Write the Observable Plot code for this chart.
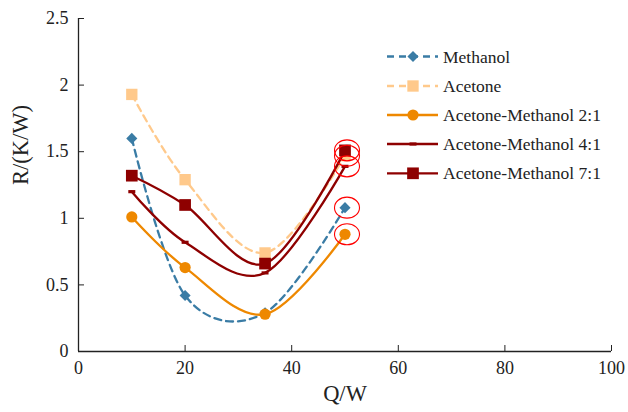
<!DOCTYPE html>
<html>
<head>
<meta charset="utf-8">
<script src="https://cdn.jsdelivr.net/npm/d3@7"></script>
<script src="https://cdn.jsdelivr.net/npm/@observablehq/plot@0.6"></script>
<style>
  body { margin: 0; background: white; }
  #wrap { position: relative; width: 628px; height: 412px; }
  #wrap svg { position: absolute; left: 0; top: 0; }
</style>
</head>
<body>
<div id="wrap"></div>
<script>
// ---- data ----
const seriesNames = ["Methanol", "Acetone", "Acetone-Methanol 2:1", "Acetone-Methanol 4:1", "Acetone-Methanol 7:1"];
const q = [10, 20, 35, 50];
const methanol = [1.60, 0.42, 0.29, 1.08];
const acetone  = [1.93, 1.29, 0.74, 1.47];
const am21     = [1.01, 0.63, 0.28, 0.88];
const am41     = [1.20, 0.82, 0.59, 1.39];
const am71     = [1.32, 1.10, 0.66, 1.51];
const xTicks = [0, 20, 40, 60, 80, 100];
const yTicks = [0, 0.5, 1, 1.5, 2, 2.5];
const yTickLabels = ["0", "0.5", "1", "1.5", "2", "2.5"];

// ---- styles ----
const dashSymbol = {draw(ctx) { ctx.moveTo(-3.5, -1.6); ctx.lineTo(3.5, -1.6); ctx.lineTo(3.5, 1.6); ctx.lineTo(-3.5, 1.6); ctx.closePath(); }};
const ellipseSymbol = {draw(ctx) {
  const rx = 12.5, ry = 10.5, k = 0.5523;
  ctx.moveTo(rx, 0);
  ctx.bezierCurveTo(rx, ry * k, rx * k, ry, 0, ry);
  ctx.bezierCurveTo(-rx * k, ry, -rx, ry * k, -rx, 0);
  ctx.bezierCurveTo(-rx, -ry * k, -rx * k, -ry, 0, -ry);
  ctx.bezierCurveTo(rx * k, -ry, rx, -ry * k, rx, 0);
  ctx.closePath();
}};
const styles = [
  {color: "#3A7CA5", dash: "7,5", symbol: "diamond2", r: 5},
  {color: "#FFC98B", dash: "7,5", symbol: "square", r: 6.4},
  {color: "#EE8800", dash: null, symbol: "circle", r: 5.6},
  {color: "#8E0000", dash: null, symbol: dashSymbol, r: 3},
  {color: "#8E0000", dash: null, symbol: "square", r: 6.6}
];
const values = [methanol, acetone, am21, am41, am71];
const tables = values.map((v, i) => q.map((x, j) => ({series: seriesNames[i], q: x, r: v[j]})));
const lastPoints = tables.map(t => t[t.length - 1]);

const marks = [
  Plot.axisX(xTicks, {tickSize: -6, tickPadding: 16, fontSize: 18, label: null}),
  Plot.axisY(yTicks, {tickSize: -6, tickPadding: 16, fontSize: 18, label: null, tickFormat: (d, i) => yTickLabels[i]}),
  Plot.ruleX([0], {stroke: "#222", strokeWidth: 1.3}),
  Plot.ruleY([0], {stroke: "#222", strokeWidth: 1.3})
];
tables.forEach((t, i) => {
  const s = styles[i];
  marks.push(Plot.line(t, {x: "q", y: "r", stroke: s.color, strokeWidth: 2.3, strokeDasharray: s.dash, curve: "cardinal"}));
  marks.push(Plot.dot(t, {x: "q", y: "r", symbol: () => s.symbol, r: s.r, fill: s.color, stroke: "none"}));
});
marks.push(Plot.dot(lastPoints, {x: "q", y: "r", symbol: () => ellipseSymbol, r: 5, fill: "none", stroke: "#FF0000", strokeWidth: 1.1, dx: 2, ariaLabel: "highlight"}));
marks.push(Plot.text(["R/(K/W)"], {frameAnchor: "left", dx: -58, rotate: -90, fontSize: 22.5, fill: "#222"}));
marks.push(Plot.text(["Q/W"], {frameAnchor: "bottom", dy: 49, fontSize: 22.5, fill: "#222"}));

const chart = Plot.plot({
  width: 628, height: 412,
  marginLeft: 78, marginRight: 17, marginTop: 18, marginBottom: 61,
  x: {domain: [0, 100]},
  y: {domain: [0, 2.5]},
  symbol: {type: "identity"},
  style: {fontFamily: "'Liberation Serif', 'Times New Roman', serif", color: "#222", background: "white", overflow: "visible"},
  marks
});
d3.select(chart).selectAll('g[aria-label="highlight"]').style("filter", "drop-shadow(0px 0px 2px rgba(0,0,0,0.25))");
document.getElementById("wrap").appendChild(chart);

// ---- legend ----
const legend = d3.select("#wrap").append("svg").attr("width", 628).attr("height", 412)
  .style("font-family", "'Liberation Serif', 'Times New Roman', serif");
const rowY = [56.5, 86, 115, 144, 173.3];
seriesNames.forEach((name, i) => {
  const s = styles[i];
  const g = legend.append("g").attr("transform", `translate(0,${rowY[i]})`);
  g.append("line").attr("x1", 387).attr("x2", 438).attr("y1", 0).attr("y2", 0)
    .attr("stroke", s.color).attr("stroke-width", 2.3).attr("stroke-dasharray", s.dash);
  const sym = typeof s.symbol === "string" ? {diamond2: d3.symbolDiamond2, square: d3.symbolSquare, circle: d3.symbolCircle}[s.symbol] : s.symbol;
  g.append("path").attr("transform", "translate(413,0)").attr("d", d3.symbol(sym, Math.PI * s.r * s.r)()).attr("fill", s.color);
  g.append("text").attr("x", 443).attr("y", 0).attr("dy", "0.35em").attr("font-size", 17.5).attr("fill", "#222").text(name);
});
</script>
</body>
</html>
